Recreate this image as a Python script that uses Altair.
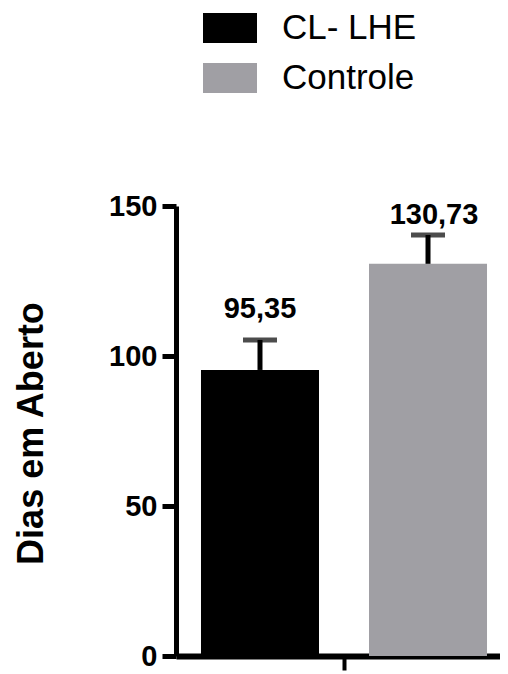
import altair as alt
import pandas as pd

# ---- data ----
grupos = ["CL- LHE", "Controle"]
medias = [95.35, 130.73]
erros = [10.0, 9.6]
rotulos = ["95,35", "130,73"]
cores = ["#000000", "#a09fa4"]
y_ticks = [0, 50, 100, 150]
categoria = ["Dias em Aberto", "Dias em Aberto"]

df = pd.DataFrame({
    "categoria": categoria,
    "grupo": grupos,
    "media": medias,
    "erro": erros,
    "rotulo": rotulos,
})

FONT = "Liberation Sans"

x_enc = alt.X(
    "categoria:N",
    scale=alt.Scale(paddingInner=0, paddingOuter=0.0664, align=0.658),
    axis=alt.Axis(labels=False, title=None, domainWidth=6, domainColor="black",
                  tickColor="black", tickWidth=4, tickSize=14, grid=False),
)
xo_enc = alt.XOffset("grupo:N", scale=alt.Scale(domain=grupos, paddingInner=0.2976, paddingOuter=0))

base = alt.Chart(df).transform_calculate(sup="datum.media + datum.erro")

y_axis = alt.Axis(
    values=y_ticks, title="Dias em Aberto", titleFont=FONT, titleFontSize=36,
    titleFontWeight="bold", titleColor="black", titleAngle=-90, titleX=-134, titleY=227,
    titleAlign="center", titleBaseline="alphabetic",
    labelFont=FONT, labelFontSize=29, labelFontWeight="bold", labelColor="black",
    labelPadding=5, tickSize=14, tickWidth=5, tickColor="black",
    domainWidth=5, domainColor="black", grid=False,
)

bars = base.mark_bar().encode(
    x=x_enc,
    xOffset=xo_enc,
    y=alt.Y("media:Q", scale=alt.Scale(domain=[0, 150], nice=False), axis=y_axis),
    color=alt.Color(
        "grupo:N",
        scale=alt.Scale(domain=grupos, range=cores),
        legend=alt.Legend(
            orient="none", legendX=27, legendY=-205, title=None,
            symbolType="M-1,-0.556H1V0.556H-1Z", symbolSize=2916,
            symbolStrokeWidth=0, symbolOpacity=1,
            labelFont=FONT, labelFontSize=35, labelColor="black",
            labelOffset=25, rowPadding=5,
        ),
    ),
)

stems = base.mark_rule(strokeWidth=5, color="black").encode(
    x=x_enc, xOffset=xo_enc, y="media:Q", y2="sup:Q"
)
caps = base.mark_tick(thickness=5, size=34, color="black").encode(
    x=x_enc, xOffset=xo_enc, y="sup:Q"
)

txt1 = base.transform_filter(alt.datum.grupo == grupos[0]).mark_text(
    font=FONT, fontSize=29, fontWeight="bold", baseline="alphabetic", dy=-22, color="black"
).encode(x=x_enc, xOffset=xo_enc, y="sup:Q", text="rotulo:N")
txt2 = base.transform_filter(alt.datum.grupo == grupos[1]).mark_text(
    font=FONT, fontSize=29, fontWeight="bold", baseline="alphabetic", dy=-11, dx=6, color="black"
).encode(x=x_enc, xOffset=xo_enc, y="sup:Q", text="rotulo:N")

chart = alt.layer(bars, stems, caps, txt1, txt2).properties(
    width=324, height=450,
    autosize=alt.AutoSizeParams(type="none"),
    padding={"left": 168, "top": 198, "right": 0, "bottom": 16},
).configure(background="white").configure_view(stroke=None, strokeWidth=0)

chart.save("out.html", embed_options={"renderer": "svg", "actions": False})
